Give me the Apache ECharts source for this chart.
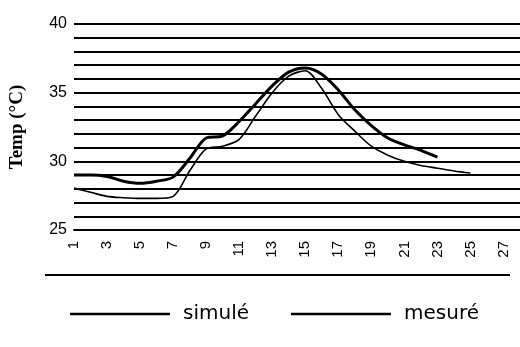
<!DOCTYPE html>
<html>
<head>
<meta charset="utf-8">
<script src="https://cdn.jsdelivr.net/npm/echarts@6/dist/echarts.min.js"></script>
<style>
html,body{margin:0;padding:0;background:#fff;}
#chart{width:520px;height:347px;}
</style>
</head>
<body>
<div id="chart"></div>
<script>
var hours = ['1','2','3','4','5','6','7','8','9','10','11','12','13','14','15','16','17','18','19','20','21','22','23','24','25','26','27','28'];
var simule = [29.0, 29.0, 28.9, 28.55, 28.4, 28.55, 28.85, 30.2, 31.7, 31.85, 32.9, 34.2, 35.5, 36.5, 36.8, 36.35, 35.2, 33.75, 32.6, 31.7, 31.2, 30.8, 30.3];
var mesure = [28.05, 27.75, 27.45, 27.35, 27.3, 27.3, 27.45, 29.3, 30.9, 31.1, 31.6, 33.3, 35.0, 36.2, 36.6, 35.3, 33.4, 32.2, 31.1, 30.45, 30.0, 29.7, 29.5, 29.3, 29.15];
var yTicks = [25, 30, 35, 40];
var yName = 'Temp (°C)';
var names = ['simulé', 'mesuré'];

var chart = echarts.init(document.getElementById('chart'), null, {renderer: 'canvas'});
chart.setOption({
  backgroundColor: '#fff',
  animation: false,
  grid: {left: 72, right: 0, top: 24, height: 206},
  legend: {
    data: [
      {name: names[0], icon: 'rect'},
      {name: names[1], icon: 'rect'}
    ],
    left: 65,
    top: 299,
    itemWidth: 100,
    itemHeight: 2.5,
    itemGap: 42,
    itemStyle: {color: '#000'},
    textStyle: {fontFamily: 'DejaVu Sans', fontSize: 20, color: '#000', padding: [0, 0, 4, 8]}
  },
  xAxis: {
    type: 'category',
    data: hours,
    boundaryGap: false,
    axisLine: {show: true, lineStyle: {color: '#000', width: 2}},
    axisTick: {show: false},
    axisLabel: {interval: 1, rotate: 90, margin: 11, fontFamily: 'Liberation Sans', fontSize: 15, color: '#000'},
    splitLine: {show: false}
  },
  yAxis: {
    type: 'value',
    min: 25,
    max: 40,
    interval: 1,
    name: yName,
    nameLocation: 'middle',
    nameGap: 47,
    nameTextStyle: {fontFamily: 'Liberation Serif', fontWeight: 'bold', fontSize: 19, color: '#000'},
    axisLine: {show: false},
    axisTick: {show: false},
    axisLabel: {
      margin: 7,
      padding: [0, 0, 6, 0],
      fontFamily: 'Liberation Sans',
      fontSize: 16,
      color: '#000',
      formatter: function (v) { return yTicks.indexOf(v) >= 0 ? String(v) : ''; }
    },
    splitLine: {show: true, lineStyle: {color: '#000', width: 2}}
  },
  graphic: [{
    type: 'line',
    shape: {x1: 45, y1: 275, x2: 510, y2: 275},
    style: {stroke: '#000', lineWidth: 2}
  }],
  series: [
    {
      name: names[0],
      type: 'line',
      data: simule,
      symbol: 'none',
      smooth: 0.3,
      lineStyle: {color: '#000', width: 3},
      itemStyle: {color: '#000'}
    },
    {
      name: names[1],
      type: 'line',
      data: mesure,
      symbol: 'none',
      smooth: 0.3,
      lineStyle: {color: '#000', width: 1.6},
      itemStyle: {color: '#000'}
    }
  ]
});
</script>
</body>
</html>
